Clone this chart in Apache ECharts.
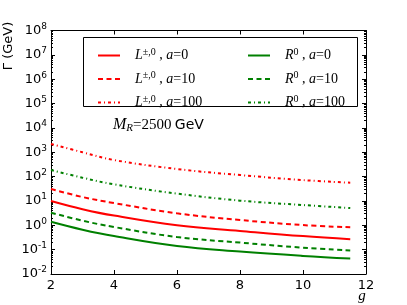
<!DOCTYPE html>
<html>
<head>
<meta charset="utf-8">
<script src="https://cdn.jsdelivr.net/npm/echarts@6/dist/echarts.min.js"></script>
<style>html,body{margin:0;padding:0;background:#fff;}#c{width:407px;height:305px;}</style>
</head>
<body>
<div id="c"></div>
<script>
var gVals = [2, 3, 4, 6, 8, 10, 11.5];
var L_a0   = [10, 4.6, 2.5, 1.0, 0.59, 0.36, 0.27];
var L_a10  = [31, 14.5, 8.2, 3.1, 1.65, 1.02, 0.83];
var L_a100 = [2200, 1000, 480, 205, 116, 72, 56];
var R_a0   = [1.4, 0.66, 0.36, 0.14, 0.083, 0.055, 0.043];
var R_a10  = [3.3, 1.55, 0.85, 0.33, 0.195, 0.12, 0.093];
var R_a100 = [186, 90, 48, 20, 10.3, 6.8, 5.1];
var xTicks = [2, 4, 6, 8, 10, 12];
var yMajor = [0.01, 0.1, 1, 10, 100, 1e3, 1e4, 1e5, 1e6, 1e7, 1e8];

var yMinor = [];
for (var k = -2; k < 8; k++) for (var m = 2; m < 10; m++) yMinor.push(m * Math.pow(10, k));

function pairs(ys){ return gVals.map(function(g,i){ return [g, ys[i]]; }); }

var RED = '#ff0000', GREEN = '#008000';
var DASH = [5, 3.5], DASHDOT = [3, 3, 1, 3];
function ser(name, data, color, type){
  return {
    name: name, type: 'line', data: pairs(data), smooth: 0.4,
    symbol: 'none', showSymbol: false,
    xAxisIndex: 0, yAxisIndex: 0,
    lineStyle: {color: color, width: 2, type: type},
    itemStyle: {color: color},
    emphasis: {disabled: true}
  };
}

var legendRich = {
  sp: {width: 10},
  i: {fontFamily: 'Liberation Serif', fontStyle: 'italic', fontSize: 14, color: '#000'},
  n: {fontFamily: 'Liberation Serif', fontSize: 14, color: '#000'},
  s: {fontFamily: 'Liberation Serif', fontSize: 10, color: '#000', padding: [0, 0, 7, 0]}
};
var legendText = {
  'L0':   '{sp|}{i|L}{s|±,0}{n| , }{i|a}{n|=0}',
  'L10':  '{sp|}{i|L}{s|±,0}{n| , }{i|a}{n|=10}',
  'L100': '{sp|}{i|L}{s|±,0}{n| , }{i|a}{n|=100}',
  'R0':   '{sp|}{i|R}{s|0}{n| , }{i|a}{n|=0}',
  'R10':  '{sp|}{i|R}{s|0}{n| , }{i|a}{n|=10}',
  'R100': '{sp|}{i|R}{s|0}{n| , }{i|a}{n|=100}'
};
function legend(names, left){
  return {
    data: names, orient: 'vertical', left: left, top: 42,
    itemWidth: 22, itemHeight: 14, itemGap: 8,
    selectedMode: false,
    itemStyle: {opacity: 0},
    formatter: function(n){ return legendText[n]; },
    textStyle: {rich: legendRich, lineHeight: 14}
  };
}

var supRich = {
  b: {fontFamily: 'DejaVu Sans', fontSize: 13, color: '#000'},
  sup: {fontFamily: 'DejaVu Sans', fontSize: 9, color: '#000', padding: [0, 0, 8, 0]}
};
function yLab(v){
  var e = Math.round(Math.log10(v));
  return '{b|10}{sup|' + e + '}';
}

var axisLine = {show: true, lineStyle: {color: '#000', width: 1}};
var chart = echarts.init(document.getElementById('c'), null, {renderer: 'canvas'});
chart.setOption({
  animation: false,
  backgroundColor: '#fff',
  grid: {left: 51, right: 41, top: 30.5, bottom: 31, containLabel: false},
  xAxis: [
    {type: 'value', min: 2, max: 12, interval: 2, position: 'bottom',
     axisLine: axisLine, splitLine: {show: false},
     axisTick: {inside: true, length: 4, lineStyle: {color: '#000'}},
     axisLabel: {margin: 5, fontFamily: 'DejaVu Sans', fontSize: 13, color: '#000',
                 customValues: xTicks}},
    {type: 'value', min: 2, max: 12, interval: 2, position: 'top',
     axisLine: axisLine, splitLine: {show: false},
     axisTick: {inside: true, length: 4, lineStyle: {color: '#000'}},
     axisLabel: {show: false}}
  ],
  yAxis: [
    {type: 'log', logBase: 10, min: 0.01, max: 1e8, position: 'left',
     axisLine: axisLine, splitLine: {show: false},
     axisTick: {inside: true, length: 4, lineStyle: {color: '#000'}, customValues: yMajor},
     axisLabel: {margin: 4, formatter: yLab, rich: supRich, customValues: yMajor}},
    {type: 'log', logBase: 10, min: 0.01, max: 1e8, position: 'right',
     axisLine: axisLine, splitLine: {show: false},
     axisTick: {inside: true, length: 4, lineStyle: {color: '#000'}, customValues: yMajor},
     axisLabel: {show: false}},
    {type: 'log', logBase: 10, min: 0.01, max: 1e8, position: 'left', offset: 0,
     axisLine: {show: false}, splitLine: {show: false},
     axisTick: {inside: true, length: 2, lineStyle: {color: '#000'}, customValues: yMinor},
     axisLabel: {show: false}},
    {type: 'log', logBase: 10, min: 0.01, max: 1e8, position: 'right', offset: 0,
     axisLine: {show: false}, splitLine: {show: false},
     axisTick: {inside: true, length: 2, lineStyle: {color: '#000'}, customValues: yMinor},
     axisLabel: {show: false}}
  ],
  legend: [legend(['L0', 'L10', 'L100'], 92), legend(['R0', 'R10', 'R100'], 242)],
  graphic: [
    {type: 'rect', shape: {x: 83.5, y: 37.5, width: 274, height: 69}, z: 0,
     style: {fill: '#fff', stroke: '#000', lineWidth: 1}},
    {type: 'text', x: 113, y: 125, z: 5,
     style: {text: '{i|M}{s|R}{n|=2500} {g|GeV}', verticalAlign: 'middle',
       rich: {
         i: {fontFamily: 'Liberation Serif', fontStyle: 'italic', fontSize: 16, color: '#000'},
         s: {fontFamily: 'Liberation Serif', fontStyle: 'italic', fontSize: 11, color: '#000', padding: [6, 0, 0, 0]},
         n: {fontFamily: 'Liberation Serif', fontSize: 15, color: '#000'},
         g: {fontFamily: 'DejaVu Sans', fontSize: 14, color: '#000'}
       }}},
    {type: 'text', x: 9, y: 46, rotation: Math.PI / 2, z: 5,
     style: {text: 'Γ (GeV)', fontFamily: 'DejaVu Sans', fontSize: 13, fill: '#000',
       align: 'center', verticalAlign: 'middle'}},
    {type: 'text', x: 362, y: 296, z: 5,
     style: {text: 'g', fontFamily: 'Liberation Serif', fontStyle: 'italic', fontSize: 15, fill: '#000',
       align: 'center', verticalAlign: 'middle'}}
  ],
  series: [
    ser('L0', L_a0, RED, 'solid'),
    ser('L10', L_a10, RED, DASH),
    ser('L100', L_a100, RED, DASHDOT),
    ser('R0', R_a0, GREEN, 'solid'),
    ser('R10', R_a10, GREEN, DASH),
    ser('R100', R_a100, GREEN, DASHDOT)
  ]
});
</script>
</body>
</html>
